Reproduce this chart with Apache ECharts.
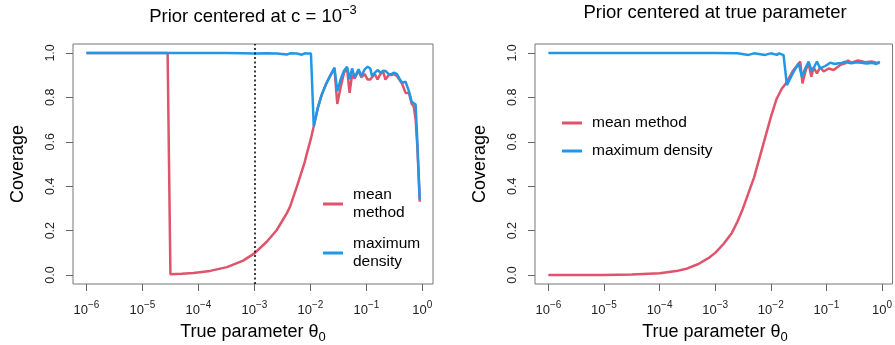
<!DOCTYPE html>
<html><head><meta charset="utf-8">
<script src="https://cdn.jsdelivr.net/npm/echarts@6/dist/echarts.min.js"></script>
<style>html,body{margin:0;padding:0;background:#fff}#c{width:895px;height:345px}</style>
</head><body><div id="c"></div>
<script>
const FONT = '"Liberation Sans", Arial, Helvetica, sans-serif';
const RED = '#DF536B', BLUE = '#2297E6';

// x tick positions (log10 of theta) and y ticks
const xTicks = [-6, -5, -4, -3, -2, -1, 0];
const yTicks = [0, 0.2, 0.4, 0.6, 0.8, 1.0];
const seriesNames = ['mean method', 'maximum density'];

// Left panel: prior centered at c = 1e-3 (x = log10 theta)
const leftLogTheta = [-6.00,-5.50,-5.00,-4.55,-4.50,-4.30,-4.09,-3.79,-3.49,-3.20,-3.00,-2.78,-2.60,-2.42,-2.36,-2.24,-2.15,-2.10,-2.06,-1.99,
  -1.94,-1.87,-1.80,-1.72,-1.64,-1.57,-1.52,-1.46,-1.40,-1.345,-1.30,-1.256,-1.21,-1.14,-1.09,-1.03,-0.977,-0.93,-0.90,-0.85,
  -0.80,-0.75,-0.70,-0.66,-0.60,-0.55,-0.51,-0.45,-0.40,-0.36,-0.30,-0.24,-0.19,-0.155,-0.12,-0.09,-0.047];
const leftMax = [1.000,1.000,1.000,1.000,1.000,1.000,1.000,1.000,0.999,0.998,0.997,0.998,0.997,0.993,0.998,0.997,0.992,0.998,0.997,0.997,
  0.670,0.750,0.810,0.860,0.900,0.934,0.828,0.880,0.920,0.938,0.881,0.930,0.889,0.926,0.896,0.926,0.938,0.930,0.896,0.910,
  0.923,0.911,0.920,0.919,0.904,0.905,0.911,0.904,0.880,0.866,0.870,0.828,0.780,0.776,0.768,0.600,0.342];
const leftMean = [1.000,1.000,1.000,1.000,0.004,0.006,0.010,0.019,0.036,0.065,0.098,0.150,0.203,0.279,0.310,0.399,0.470,0.510,0.550,0.615,
  0.670,0.750,0.810,0.860,0.900,0.930,0.770,0.845,0.910,0.930,0.820,0.900,0.885,0.920,0.890,0.905,0.880,0.880,0.890,0.905,
  0.880,0.905,0.915,0.880,0.900,0.900,0.905,0.895,0.875,0.860,0.820,0.820,0.770,0.760,0.700,0.580,0.330];
const priorCenterLog = -3;

// Right panel: prior centered at true parameter
const rightMeanLogTheta = [-6,-5.5,-5,-4.5,-4,-3.7,-3.5,-3.3,-3.1,-3,-2.85,-2.7,-2.6,-2.5,-2.4,-2.3,-2.2,-2.1,-2,-1.9,-1.8,-1.72,
  -1.6,-1.47,-1.43,-1.37,-1.32,-1.27,-1.23,-1.17,-1.11,-1.05,-0.96,-0.87,-0.75,-0.66,-0.61,-0.55,-0.43,-0.3,-0.19,-0.16,-0.1,-0.04];
const rightMean = [0.000,0.001,0.001,0.003,0.008,0.018,0.030,0.050,0.080,0.100,0.140,0.190,0.240,0.300,0.370,0.440,0.530,0.620,0.710,0.790,0.840,0.865,
  0.920,0.961,0.863,0.923,0.953,0.893,0.935,0.908,0.935,0.916,0.930,0.923,0.946,0.953,0.966,0.956,0.966,0.958,0.961,0.968,0.956,0.955];
const rightMaxLogTheta = [-6,-5,-4,-3,-2.6,-2.4,-2.3,-2.1,-2.0,-1.89,-1.85,-1.77,-1.71,-1.6,-1.5,-1.44,-1.38,-1.32,-1.26,-1.17,-1.11,
  -1.02,-0.93,-0.85,-0.78,-0.72,-0.66,-0.6,-0.55,-0.46,-0.37,-0.28,-0.19,-0.1,-0.04];
const rightMax = [1.000,1.000,1.000,0.999,0.998,0.991,0.998,0.991,0.998,0.991,0.998,0.990,0.855,0.910,0.953,0.893,0.930,0.961,0.916,0.961,0.930,
  0.941,0.956,0.950,0.953,0.955,0.961,0.955,0.953,0.958,0.956,0.952,0.955,0.950,0.961];

const pairs = (xs, ys) => xs.map((x, i) => [x, ys[i]]);

function xAxis(gi) {
  return {
    type: 'value', gridIndex: gi, min: -6.24, max: 0.19, position: 'bottom',
    axisLine: {show: false, onZero: false}, splitLine: {show: false},
    axisTick: {show: true, customValues: xTicks, length: 7, lineStyle: {color: '#666'}},
    axisLabel: {
      customValues: xTicks, margin: 16, color: '#222',
      formatter: v => { const e = Math.round(v); return '{b|10}{s|' + (e === 0 ? '0' : '\u2212' + (-e)) + '}'; },
      rich: {
        b: {fontSize: 13, fontFamily: FONT, color: '#222', lineHeight: 20, verticalAlign: 'middle'},
        s: {fontSize: 10, fontFamily: FONT, color: '#222', lineHeight: 10, verticalAlign: 'top'}
      }
    }
  };
}
function yAxis(gi) {
  return {
    type: 'value', gridIndex: gi, min: -0.04, max: 1.04, position: 'left',
    axisLine: {show: false, onZero: false}, splitLine: {show: false},
    axisTick: {show: true, customValues: yTicks, length: 7, lineStyle: {color: '#666'}},
    axisLabel: {customValues: yTicks, rotate: 90, margin: 16, fontSize: 12.5, fontFamily: FONT, color: '#222',
      formatter: v => v.toFixed(1)}
  };
}
function line(name, gi, data, color, z) {
  return {name, type: 'line', xAxisIndex: gi, yAxisIndex: gi, data, color, showSymbol: false, symbol: 'none',
    lineStyle: {color, width: 2.5}, z, animation: false};
}

const leftMeanSeries = line(seriesNames[0], 0, pairs(leftLogTheta, leftMean), RED, 2);
leftMeanSeries.markLine = {silent: true, symbol: ['none', 'none'], label: {show: false},
  lineStyle: {color: '#000', type: [2, 2.5], width: 1.5}, data: [{xAxis: priorCenterLog}], animation: false};

const titleRich = {
  t: {fontSize: 18.5, fontFamily: FONT, fill: '#000', lineHeight: 26, verticalAlign: 'middle'},
  s: {fontSize: 13, fontFamily: FONT, fill: '#000', lineHeight: 13, verticalAlign: 'top'}
};
const labRich = {
  t: {fontSize: 18, fontFamily: FONT, fill: '#000', lineHeight: 24, verticalAlign: 'middle'},
  s: {fontSize: 13, fontFamily: FONT, fill: '#000', lineHeight: 13, verticalAlign: 'bottom'}
};

const option = {
  backgroundColor: '#fff',
  animation: false,
  grid: [
    {left: 73, top: 44, width: 360, height: 240, show: true, borderColor: '#777', borderWidth: 1, backgroundColor: 'transparent'},
    {left: 535, top: 44, width: 359, height: 240, show: true, borderColor: '#777', borderWidth: 1, backgroundColor: 'transparent'}
  ],
  xAxis: [xAxis(0), xAxis(1)],
  yAxis: [yAxis(0), yAxis(1)],
  legend: [
    {orient: 'vertical', left: 318, top: 181, itemWidth: 20, itemHeight: 3, itemGap: 13, icon: 'rect',
      data: seriesNames, selectedMode: false,
      formatter: n => n.replace(' ', '\n'),
      textStyle: {fontSize: 15.5, fontFamily: FONT, color: '#000', lineHeight: 18, padding: [0, 0, 0, 5]}},
    {orient: 'vertical', left: 557, top: 109, itemWidth: 20, itemHeight: 3, itemGap: 10, icon: 'rect',
      data: seriesNames, selectedMode: false,
      textStyle: {fontSize: 15.5, fontFamily: FONT, color: '#000', lineHeight: 18, padding: [0, 0, 0, 5]}}
  ],
  graphic: [
    {type: 'text', x: 253, y: 17, style: {text: '{t|Prior centered at c = 10}{s|\u22123}', rich: titleRich, align: 'center', verticalAlign: 'middle'}},
    {type: 'text', x: 715, y: 13, style: {text: '{t|Prior centered at true parameter}', rich: titleRich, align: 'center', verticalAlign: 'middle'}},
    {type: 'text', x: 18, y: 164, rotation: Math.PI / 2, style: {text: 'Coverage', font: '18px ' + FONT, fill: '#000', align: 'center', verticalAlign: 'middle'}},
    {type: 'text', x: 480, y: 164, rotation: Math.PI / 2, style: {text: 'Coverage', font: '18px ' + FONT, fill: '#000', align: 'center', verticalAlign: 'middle'}},
    {type: 'text', x: 253, y: 332, style: {text: '{t|True parameter \u03b8}{s|0}', rich: labRich, align: 'center', verticalAlign: 'middle'}},
    {type: 'text', x: 715, y: 332, style: {text: '{t|True parameter \u03b8}{s|0}', rich: labRich, align: 'center', verticalAlign: 'middle'}}
  ],
  series: [
    leftMeanSeries,
    line(seriesNames[1], 0, pairs(leftLogTheta, leftMax), BLUE, 3),
    line(seriesNames[0], 1, pairs(rightMeanLogTheta, rightMean), RED, 2),
    line(seriesNames[1], 1, pairs(rightMaxLogTheta, rightMax), BLUE, 3)
  ]
};
const chart = echarts.init(document.getElementById('c'));
chart.setOption(option);
</script>
</body></html>
